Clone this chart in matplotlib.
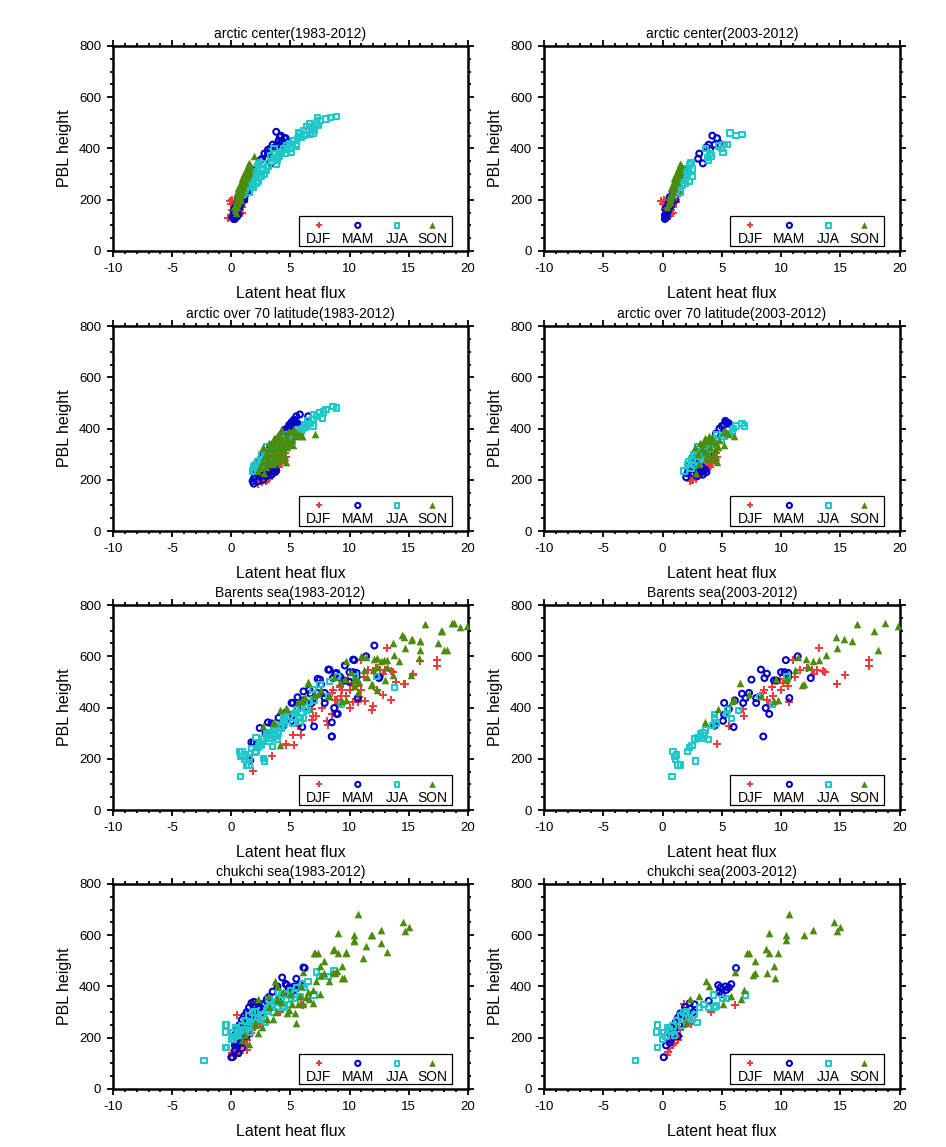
import numpy as np
import matplotlib
matplotlib.use('Agg')
import matplotlib.pyplot as plt
from matplotlib.ticker import MultipleLocator

plt.rcParams['font.family'] = ['Liberation Sans', 'DejaVu Sans']
plt.rcParams['axes.unicode_minus'] = False

seasons = ['DJF', 'MAM', 'JJA', 'SON']

# (latent heat flux, PBL height) pairs
# arctic center, 2003-2012
center_late_djf = [(-0.1, 195), (0.0, 185), (0.9, 170), (0.6, 135), (0.4, 150), (0.7, 160), (0.3, 175), (0.5, 190),
                   (1.5, 230), (1.0, 200), (0.8, 180), (0.2, 160), (0.4, 140), (1.2, 215), (0.6, 205), (0.9, 150),
                   (0.1, 200), (1.1, 190), (0.5, 165), (0.3, 190), (0.7, 145), (1.3, 225), (0.8, 210), (0.2, 180)]
center_late_mam = [(0.2, 125), (0.3, 130), (0.2, 140), (0.4, 150), (0.25, 165), (0.5, 185), (1.1, 200), (0.6, 210),
                   (0.9, 230), (1.2, 260), (1.5, 290), (1.8, 320), (3.1, 380), (3.4, 342), (3.7, 405), (3.9, 415),
                   (4.2, 450), (4.4, 415), (4.6, 440), (4.8, 420), (0.35, 135), (0.7, 175), (1.0, 245), (2.0, 300),
                   (3.0, 360), (4.0, 395), (0.8, 190), (1.3, 275), (0.5, 160), (0.3, 145)]
center_late_jja = [(5.7, 460), (6.2, 450), (6.7, 455), (5.2, 415), (5.5, 415), (5.1, 385), (4.7, 410), (4.1, 370),
                   (3.9, 355), (3.6, 400), (2.4, 345), (2.5, 290), (2.3, 270), (2.0, 320), (1.8, 285), (1.7, 255),
                   (2.2, 310), (2.5, 320), (1.6, 300), (1.4, 280), (1.9, 265), (1.2, 240), (2.1, 295), (1.5, 230),
                   (4.0, 380), (3.8, 365), (2.3, 335), (1.0, 220), (5.0, 400), (1.7, 310)]
center_late_son = [(0.4, 170), (0.5, 185), (0.6, 200), (0.55, 210), (0.7, 220), (0.8, 230), (0.75, 245), (0.9, 250),
                   (1.0, 260), (0.95, 275), (1.1, 280), (1.2, 290), (1.1, 300), (1.3, 305), (1.4, 315), (1.5, 325),
                   (1.6, 335), (1.5, 340), (1.3, 295), (1.2, 270), (0.9, 235), (0.8, 255), (1.0, 245), (1.4, 300),
                   (1.2, 310), (0.6, 190), (0.7, 205), (1.0, 285), (1.3, 320), (1.5, 310)]

# arctic center, 1983-2002
center_early_djf = [(-0.3, 130), (0.4, 135), (0.0, 140), (0.2, 150), (0.5, 160), (0.3, 170), (0.1, 185), (0.6, 180),
                    (0.4, 190), (0.7, 200), (0.2, 145), (0.8, 210), (0.5, 150), (0.3, 135), (0.9, 195), (0.6, 165),
                    (1.0, 215), (0.1, 160), (0.4, 175), (0.7, 185)]
center_early_mam = [(3.8, 465), (4.1, 445), (4.5, 440), (4.3, 430), (3.5, 415), (3.1, 395), (2.8, 380), (2.6, 360),
                    (2.3, 340), (2.0, 315), (1.8, 300), (1.6, 285), (1.4, 270), (1.2, 250), (1.0, 235), (0.8, 215),
                    (0.6, 195), (0.4, 175), (0.3, 160), (0.2, 140), (0.1, 130), (0.3, 125), (0.5, 135), (0.4, 150),
                    (0.9, 190), (1.1, 210), (1.3, 230), (0.7, 170), (3.3, 400), (2.5, 355), (1.5, 260), (1.9, 290),
                    (0.2, 150), (0.6, 145), (4.0, 430)]
center_early_jja = [(8.9, 525), (8.4, 522), (8.0, 515), (7.3, 520), (7.4, 490), (7.0, 470), (6.8, 480), (6.6, 495),
                    (6.4, 485), (6.1, 470), (5.8, 458), (5.6, 440), (5.9, 445), (5.3, 430), (5.1, 405), (4.7, 395),
                    (4.9, 420), (4.4, 400), (4.2, 385), (3.8, 340), (3.6, 360), (3.4, 350), (3.1, 330), (3.0, 315),
                    (2.7, 340), (2.8, 300), (2.4, 290), (2.1, 265), (2.3, 305), (1.9, 250), (1.8, 270), (2.6, 320),
                    (3.3, 370), (4.0, 370), (4.6, 380), (5.5, 410), (6.2, 455), (7.2, 500), (7.5, 510), (6.9, 460)]
center_early_son = [(1.9, 370), (1.5, 345), (1.4, 335), (1.6, 330), (1.3, 320), (1.2, 310), (1.5, 315), (1.1, 300),
                    (1.3, 295), (1.0, 285), (1.2, 280), (0.9, 270), (1.1, 265), (0.8, 255), (1.0, 250), (0.7, 240),
                    (0.9, 235), (0.6, 225), (0.8, 220), (0.5, 210), (0.7, 205), (0.4, 195), (0.6, 190), (0.3, 180),
                    (0.5, 170), (0.3, 160), (0.4, 150), (1.4, 305), (1.0, 270), (0.7, 260), (1.2, 295), (0.9, 285),
                    (0.6, 245), (0.5, 230), (0.2, 170), (0.8, 200), (1.3, 290), (1.1, 275)]

# arctic over 70 latitude, 2003-2012
lat70_late_djf = [(2.3, 195), (2.6, 200), (2.9, 210), (3.2, 220), (3.6, 240), (4.2, 265), (4.5, 305), (4.0, 250),
                  (3.4, 230), (2.5, 205), (3.8, 245), (4.4, 280), (3.0, 215), (2.7, 215), (3.5, 235), (4.1, 270),
                  (3.3, 225), (2.4, 200), (3.9, 255), (4.6, 290), (2.8, 205), (3.7, 260), (3.1, 235), (4.3, 275)]
lat70_late_mam = [(5.3, 430), (5.5, 420), (5.2, 415), (5.4, 425), (4.8, 400), (2.8, 235), (3.1, 225), (3.4, 220),
                  (3.5, 235), (2.0, 210), (2.4, 250), (2.5, 285), (2.2, 240), (2.9, 215), (3.0, 245), (3.2, 230),
                  (3.6, 240), (2.6, 225), (5.0, 410), (2.3, 260), (3.3, 250), (2.7, 270), (4.5, 380), (3.9, 300),
                  (4.2, 340), (3.0, 290), (2.9, 255), (2.1, 225), (3.7, 230), (5.6, 420)]
lat70_late_jja = [(6.2, 410), (6.7, 420), (6.9, 410), (5.9, 390), (5.6, 380), (1.8, 235), (2.1, 260), (2.5, 280),
                  (3.1, 300), (3.4, 315), (3.2, 290), (2.9, 310), (3.6, 330), (3.0, 270), (2.7, 255), (3.8, 350),
                  (4.3, 360), (2.4, 245), (3.5, 300), (4.0, 340), (5.2, 370), (2.2, 270), (3.3, 280), (4.6, 375),
                  (2.8, 290), (6.0, 400), (3.9, 320), (2.6, 300), (3.0, 330), (5.0, 360)]
lat70_late_son = [(2.7, 330), (3.6, 365), (4.2, 365), (4.1, 350), (4.5, 345), (5.1, 385), (5.3, 395), (6.0, 370),
                  (5.2, 335), (4.5, 290), (4.6, 270), (3.1, 260), (2.8, 225), (3.8, 300), (3.4, 340), (3.9, 355),
                  (4.0, 330), (3.3, 320), (4.3, 300), (3.7, 285), (4.8, 355), (3.5, 350), (4.0, 280), (3.2, 345),
                  (3.6, 310), (4.4, 320), (5.5, 380), (3.0, 300), (4.7, 330), (3.9, 370)]

# arctic over 70 latitude, 1983-2002
lat70_early_djf = [(2.3, 185), (2.6, 190), (3.2, 205), (3.5, 240), (3.0, 200), (2.8, 210), (3.9, 255), (3.4, 220),
                   (2.5, 195), (4.1, 265), (3.7, 230), (3.1, 215), (2.9, 195), (3.6, 250), (2.7, 200), (3.3, 225),
                   (4.3, 275), (2.4, 205), (3.8, 240), (3.0, 225)]
lat70_early_mam = [(5.8, 455), (5.5, 448), (5.3, 435), (6.5, 448), (4.9, 415), (4.7, 400), (2.6, 290), (2.4, 270),
                   (2.0, 258), (1.9, 205), (1.9, 185), (2.3, 195), (2.7, 200), (3.4, 220), (4.3, 380), (4.0, 360),
                   (3.6, 340), (3.2, 315), (2.9, 300), (2.2, 240), (2.1, 225), (3.0, 215), (3.8, 235), (4.5, 395),
                   (2.5, 215), (3.3, 330), (5.1, 425), (2.8, 230), (1.8, 195), (3.6, 250)]
lat70_early_jja = [(8.9, 480), (8.6, 487), (8.0, 474), (7.7, 441), (7.5, 461), (7.2, 448), (6.9, 435), (6.6, 420),
                   (6.3, 405), (6.0, 400), (5.8, 382), (5.5, 370), (5.2, 360), (5.0, 345), (4.7, 335), (4.4, 320),
                   (4.1, 305), (3.8, 295), (3.5, 280), (3.2, 270), (2.9, 260), (2.6, 255), (2.3, 245), (2.0, 235),
                   (1.9, 250), (2.5, 270), (3.0, 290), (6.5, 430), (7.0, 455), (5.6, 395), (4.8, 355), (7.8, 465),
                   (6.2, 415), (4.2, 330), (3.6, 300)]
lat70_early_son = [(2.7, 325), (7.1, 378), (6.0, 370), (5.8, 380), (5.5, 385), (5.2, 395), (4.9, 390), (4.6, 375),
                   (4.3, 395), (4.0, 380), (3.8, 360), (3.5, 345), (3.3, 330), (3.0, 310), (2.8, 290), (2.6, 270),
                   (2.4, 250), (2.3, 235), (2.9, 250), (3.2, 270), (3.6, 290), (4.0, 310), (4.4, 330), (4.8, 345),
                   (5.1, 355), (3.9, 270), (4.2, 290), (3.4, 300), (3.1, 285), (4.6, 355), (3.7, 320), (4.1, 345),
                   (2.9, 265), (5.4, 370), (3.5, 260)]

# Barents sea, 2003-2012
barents_late_djf = [(13.2, 633), (17.4, 587), (17.4, 561), (15.4, 527), (14.7, 492), (13.5, 542), (13.0, 548),
                    (12.6, 548), (12.2, 555), (11.6, 548), (11.0, 587), (10.6, 483), (10.7, 423), (10.4, 509),
                    (9.9, 512), (9.2, 480), (9.3, 446), (8.8, 431), (9.0, 411), (8.5, 457), (6.8, 394), (6.9, 365),
                    (5.6, 329), (4.6, 257), (11.2, 520), (12.8, 530), (10.2, 495), (8.6, 470), (13.7, 540), (10.0, 470)]
barents_late_mam = [(10.4, 585), (8.3, 548), (8.8, 532), (10.0, 538), (10.3, 538), (10.6, 535), (8.6, 515),
                    (10.6, 519), (12.5, 515), (9.4, 506), (7.5, 509), (6.7, 454), (7.3, 457), (7.0, 437), (6.8, 418),
                    (5.2, 418), (6.1, 428), (5.6, 394), (5.2, 372), (5.1, 348), (4.4, 329), (6.0, 324), (7.9, 437),
                    (7.9, 418), (8.7, 398), (9.0, 375), (8.5, 287), (10.7, 437), (11.4, 600), (9.6, 505)]
barents_late_jja = [(0.8, 130), (0.9, 228), (1.2, 215), (1.1, 196), (1.3, 176), (1.5, 175), (2.8, 192), (2.1, 228),
                    (2.5, 253), (2.7, 277), (3.0, 281), (3.2, 296), (3.6, 313), (3.4, 300), (3.9, 274), (4.4, 372),
                    (4.4, 359), (4.5, 339), (5.4, 376), (5.8, 356), (6.4, 388), (8.2, 444), (9.3, 411), (1.0, 210),
                    (3.3, 280), (2.3, 245), (3.5, 290), (5.5, 390), (10.5, 520), (4.2, 330)]
barents_late_son = [(16.4, 727), (18.8, 728), (19.9, 720), (17.8, 698), (14.6, 676), (15.3, 668), (16.0, 658),
                    (14.7, 634), (18.2, 626), (13.8, 606), (13.2, 587), (12.7, 583), (12.1, 590), (11.4, 598),
                    (11.2, 548), (10.4, 506), (11.8, 487), (9.7, 431), (9.4, 424), (8.3, 446), (7.3, 454), (6.5, 496),
                    (5.9, 424), (4.7, 395), (3.6, 342), (9.6, 512), (10.5, 515), (11.9, 490), (12.3, 560), (6.0, 430)]

# Barents sea, 1983-2002
barents_early_djf = [(1.8, 153), (3.4, 209), (4.6, 254), (5.3, 254), (5.2, 291), (5.9, 291), (8.2, 333), (8.1, 346),
                     (12.0, 405), (11.9, 389), (11.3, 427), (12.8, 450), (13.5, 430), (14.6, 493), (15.4, 532),
                     (16.0, 580), (9.7, 446), (10.3, 420), (9.4, 470), (9.2, 483), (7.7, 400), (8.5, 375),
                     (10.8, 440), (12.3, 470), (13.9, 500), (11.0, 470), (7.2, 365), (6.8, 350), (10.0, 400),
                     (8.9, 430)]
barents_early_mam = [(1.7, 264), (1.9, 262), (1.6, 193), (2.4, 320), (3.1, 342), (3.4, 338), (5.1, 418), (6.1, 463),
                     (7.3, 512), (8.2, 548), (8.9, 535), (9.6, 564), (10.3, 587), (12.1, 642), (12.5, 519),
                     (10.7, 436), (8.9, 375), (8.5, 287), (8.5, 342), (7.0, 326), (6.3, 405), (7.9, 457), (4.6, 380),
                     (5.6, 440), (6.6, 470), (7.6, 490), (9.2, 520), (10.0, 500), (4.0, 360), (2.9, 300)]
barents_early_jja = [(0.7, 228), (0.8, 210), (1.2, 198), (1.3, 176), (2.1, 283), (2.7, 202), (2.8, 189), (3.5, 248),
                     (3.8, 287), (4.5, 339), (4.9, 365), (5.2, 339), (5.8, 346), (6.3, 398), (6.9, 470), (7.5, 489),
                     (8.3, 502), (9.0, 522), (12.3, 522), (13.8, 479), (6.1, 359), (4.2, 320), (3.0, 300), (2.4, 260),
                     (1.7, 240), (3.2, 270), (4.0, 300), (5.5, 380), (6.6, 420), (2.0, 225), (1.5, 205), (3.7, 310),
                     (4.7, 350), (5.9, 400), (7.0, 430)]
barents_early_son = [(18.7, 728), (19.3, 715), (17.7, 698), (18.0, 626), (17.5, 652), (16.0, 626), (16.0, 659),
                     (15.2, 665), (14.4, 685), (13.7, 652), (12.3, 594), (12.9, 585), (9.7, 583), (11.0, 600),
                     (6.5, 498), (4.1, 389), (4.6, 398), (2.7, 326), (4.1, 254), (3.5, 339), (8.3, 444), (10.4, 483),
                     (10.7, 460), (12.3, 470), (13.0, 509), (13.7, 528), (15.2, 528), (15.9, 594), (11.5, 520),
                     (12.0, 545), (10.1, 540), (9.2, 500), (8.7, 520), (7.6, 470), (7.0, 450), (5.6, 420), (6.2, 440),
                     (10.8, 500), (13.2, 560), (14.2, 580)]

# chukchi sea, 2003-2012
chukchi_late_djf = [(1.8, 332), (6.1, 329), (4.1, 300), (2.4, 252), (2.3, 285), (1.3, 190), (0.4, 132), (0.6, 160),
                    (1.0, 180), (1.5, 230), (2.0, 260), (0.8, 200), (1.2, 215), (2.1, 270), (0.5, 145), (1.7, 240),
                    (0.9, 170), (2.5, 265), (1.4, 205), (0.7, 190)]
chukchi_late_mam = [(6.2, 472), (4.7, 405), (4.9, 396), (5.4, 387), (5.6, 396), (5.8, 409), (4.8, 379), (3.9, 344),
                    (2.3, 335), (2.3, 314), (1.5, 295), (1.3, 278), (0.9, 213), (1.3, 206), (0.7, 193), (0.3, 170),
                    (0.1, 124), (0.5, 220), (2.0, 305), (5.0, 370), (1.1, 260), (1.7, 285), (2.6, 300), (0.8, 240),
                    (1.4, 250), (0.6, 180), (1.9, 320), (1.0, 230), (2.7, 330), (5.3, 400)]
chukchi_late_jja = [(-2.3, 111), (-0.4, 161), (-0.5, 222), (-0.4, 250), (0.0, 193), (0.1, 220), (0.4, 239),
                    (1.5, 285), (1.8, 298), (2.7, 291), (2.9, 259), (3.1, 318), (3.9, 318), (4.4, 318), (4.5, 324),
                    (4.3, 366), (5.1, 353), (5.4, 353), (7.0, 366), (0.9, 246), (1.2, 265), (0.6, 230), (2.2, 280),
                    (1.0, 210), (0.3, 205), (2.5, 270), (3.5, 330), (1.6, 250), (0.8, 225), (2.0, 300)]
chukchi_late_son = [(10.7, 681), (14.5, 653), (15.0, 631), (14.7, 618), (12.7, 622), (11.9, 601), (10.4, 601),
                    (10.4, 582), (9.0, 609), (8.7, 546), (9.0, 529), (9.7, 531), (7.1, 531), (7.3, 531), (7.8, 498),
                    (9.4, 478), (7.8, 451), (7.6, 444), (8.8, 452), (9.5, 435), (6.1, 455), (3.7, 421), (3.9, 400),
                    (6.9, 386), (5.8, 361), (5.1, 333), (6.6, 353), (3.1, 361), (2.3, 353), (2.0, 259)]

# chukchi sea, 1983-2002
chukchi_early_djf = [(0.5, 288), (5.9, 331), (1.3, 154), (0.3, 130), (0.7, 140), (0.5, 160), (0.9, 175), (1.1, 195),
                     (0.2, 150), (0.8, 210), (1.5, 205), (1.7, 220), (0.6, 185), (1.0, 250), (2.0, 240), (0.4, 200),
                     (1.2, 170), (1.9, 270), (0.1, 140), (1.4, 230)]
chukchi_early_mam = [(6.1, 474), (4.3, 435), (4.6, 410), (1.7, 335), (1.9, 340), (1.5, 318), (1.3, 300), (1.1, 285),
                     (0.9, 270), (0.7, 250), (0.5, 230), (0.3, 210), (0.2, 190), (0.0, 124), (0.3, 150), (0.5, 170),
                     (0.8, 190), (1.0, 215), (1.2, 240), (1.4, 260), (1.6, 280), (0.6, 140), (0.4, 180), (2.2, 300),
                     (2.6, 330), (3.0, 350), (3.5, 380), (3.9, 400), (5.5, 430), (0.9, 160), (1.8, 300), (2.4, 320),
                     (1.1, 230), (0.7, 210), (3.2, 360)]
chukchi_early_jja = [(-0.5, 250), (-0.5, 222), (-0.5, 161), (7.2, 457), (8.7, 461), (8.2, 439), (6.5, 420),
                     (6.0, 410), (5.5, 395), (5.0, 385), (4.6, 370), (4.2, 355), (3.8, 340), (3.4, 320), (3.0, 305),
                     (2.6, 290), (2.2, 275), (1.8, 260), (1.4, 245), (1.0, 230), (0.6, 210), (0.2, 195), (1.1, 265),
                     (2.0, 300), (3.2, 350), (4.0, 375), (5.3, 370), (6.2, 395), (2.8, 260), (1.6, 220), (7.5, 440),
                     (4.8, 330), (0.4, 240), (3.6, 300), (5.8, 360)]
chukchi_early_son = [(5.5, 259), (5.4, 298), (2.3, 220), (1.5, 174), (0.9, 193), (3.0, 272), (3.5, 272), (4.7, 298),
                     (6.1, 331), (6.9, 337), (7.5, 370), (8.3, 422), (8.6, 455), (8.9, 461), (9.4, 435), (9.7, 533),
                     (8.6, 544), (7.0, 531), (7.5, 481), (10.4, 579), (11.4, 559), (11.8, 601), (12.7, 570),
                     (13.2, 536), (11.1, 511), (2.6, 240), (3.8, 300), (4.2, 340), (5.0, 370), (5.9, 400), (6.5, 380),
                     (3.2, 320), (4.4, 380), (2.0, 250), (1.2, 210), (7.2, 420), (6.3, 360), (3.9, 350), (5.6, 330),
                     (4.9, 310)]

regions = ['arctic center', 'arctic over 70 latitude', 'Barents sea', 'chukchi sea']
early = [
    [center_early_djf, center_early_mam, center_early_jja, center_early_son],
    [lat70_early_djf, lat70_early_mam, lat70_early_jja, lat70_early_son],
    [barents_early_djf, barents_early_mam, barents_early_jja, barents_early_son],
    [chukchi_early_djf, chukchi_early_mam, chukchi_early_jja, chukchi_early_son],
]
late = [
    [center_late_djf, center_late_mam, center_late_jja, center_late_son],
    [lat70_late_djf, lat70_late_mam, lat70_late_jja, lat70_late_son],
    [barents_late_djf, barents_late_mam, barents_late_jja, barents_late_son],
    [chukchi_late_djf, chukchi_late_mam, chukchi_late_jja, chukchi_late_son],
]

styles = {
    'DJF': dict(marker='P', s=26, color='#f03c3c', linewidths=0),
    'MAM': dict(marker='o', s=18, facecolors='none', edgecolors='#0000c8', linewidths=1.5),
    'JJA': dict(marker='s', s=15, facecolors='none', edgecolors='#1ec8c8', linewidths=1.5),
    'SON': dict(marker='^', s=30, color='#4b8c0c', linewidths=0),
}


def draw_panel(ax, title, season_data):
    for s, pts in zip(seasons, season_data):
        pts = np.array(pts)
        ax.scatter(pts[:, 0], pts[:, 1], zorder=3, **styles[s])

    ax.set_xlim(-10, 20)
    ax.set_ylim(0, 800)
    ax.xaxis.set_major_locator(MultipleLocator(5))
    ax.xaxis.set_minor_locator(MultipleLocator(1))
    ax.yaxis.set_major_locator(MultipleLocator(200))
    ax.yaxis.set_minor_locator(MultipleLocator(50))
    ax.tick_params(which='both', direction='out', top=True, right=True, width=1.3, labelsize=9.5)
    ax.tick_params(which='major', length=4.5, pad=4)
    ax.tick_params(which='minor', length=2.5)
    for sp in ax.spines.values():
        sp.set_linewidth(1.8)
    ax.set_title(title, fontsize=10, pad=5.5)
    ax.set_xlabel('Latent heat flux', fontsize=11.5, labelpad=8)
    ax.set_ylabel('PBL height', fontsize=11.5, labelpad=5)

    # legend box with markers above labels
    ax.add_patch(plt.Rectangle((0.524, 0.024), 0.431, 0.147, transform=ax.transAxes,
                               facecolor='white', edgecolor='black', linewidth=0.9, zorder=4))
    for s, lx in zip(seasons, [0.58, 0.69, 0.80, 0.90]):
        st = dict(styles[s])
        st['s'] = st['s'] * 0.75
        ax.scatter([lx], [0.125], transform=ax.transAxes, zorder=5, clip_on=False, **st)
        ax.text(lx, 0.06, s, transform=ax.transAxes, ha='center', va='center', fontsize=10, zorder=5)


fig = plt.figure(figsize=(9.46, 11.47), dpi=100)
lefts = [0.1195, 0.575]
bottoms = [0.7812, 0.537, 0.2938, 0.0506]
for i, name in enumerate(regions):
    combined = [a + b for a, b in zip(early[i], late[i])]
    ax1 = fig.add_axes([lefts[0], bottoms[i], 0.375, 0.1787])
    draw_panel(ax1, name + '(1983-2012)', combined)
    ax2 = fig.add_axes([lefts[1], bottoms[i], 0.376, 0.1787])
    draw_panel(ax2, name + '(2003-2012)', late[i])

fig.savefig('out.png', dpi=100)
